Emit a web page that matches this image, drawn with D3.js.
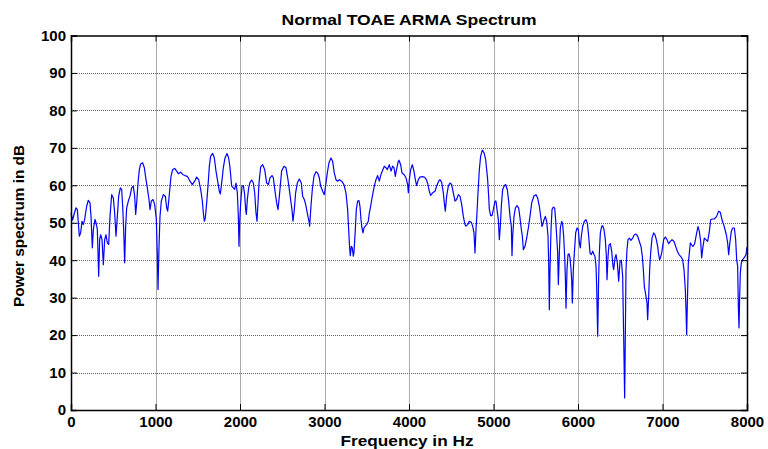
<!DOCTYPE html>
<html>
<head>
<meta charset="utf-8">
<script src="https://cdn.jsdelivr.net/npm/d3@7"></script>
<style>
  html, body { margin: 0; padding: 0; background: #fff; }
  svg { display: block; }
  text { font-family: "Liberation Sans", Arial, sans-serif; font-weight: bold; fill: #000; }
</style>
</head>
<body>
<svg id="chart" width="768" height="449"></svg>
<script>
// Spectrum estimate of a normal TOAE recording (ARMA model), Hz vs dB
const freqHz = [
  0, 19.7, 35.5, 59.2, 75.0, 86.8, 98.6, 114.4, 130.2, 146.0, 161.7, 185.4, 205.1, 224.9, 236.7, 252.5,
  264.3, 284.0, 295.9, 311.7, 327.4, 339.3, 351.1, 366.9, 382.7, 398.4, 414.2, 430.0, 445.8, 461.6, 481.3,
  501.0, 516.8, 532.6, 548.4, 564.1, 583.9, 599.6, 611.5, 623.3, 635.1, 647.0, 658.8, 678.5, 698.3, 718.0,
  737.7, 753.5, 765.3, 777.2, 793.0, 808.7, 824.5, 848.2, 867.9, 887.6, 903.4, 923.1, 935.0, 950.7, 970.5,
  990.2, 1009.9, 1021.8, 1029.6, 1041.5, 1053.3, 1069.1, 1092.8, 1116.4, 1132.2, 1144.1, 1159.8,
  1183.4, 1203.2, 1226.8, 1250.5, 1270.2, 1297.8, 1321.5, 1349.1, 1376.7, 1408.3, 1435.9, 1463.5, 1487.2,
  1510.9, 1534.5, 1554.3, 1566.1, 1578.0, 1589.8, 1605.6, 1621.3, 1637.1, 1652.9, 1676.6, 1696.3, 1716.0,
  1735.7, 1755.5, 1767.3, 1783.1, 1802.8, 1822.5, 1846.2, 1865.9, 1881.7, 1901.4, 1921.2, 1936.9, 1952.7,
  1968.5, 1980.4, 1988.2, 1996.1, 2008.0, 2023.7, 2039.5, 2055.3, 2067.1, 2075.0, 2086.9, 2102.6, 2118.4,
  2138.1, 2157.9, 2173.6, 2189.4, 2201.2, 2213.1, 2224.9, 2244.6, 2268.3, 2292.0, 2315.6, 2335.4, 2355.1,
  2378.8, 2394.6, 2414.3, 2434.0, 2449.8, 2465.6,
  2492.7, 2520.3, 2544.0, 2567.7, 2583.5, 2599.2, 2615.0, 2626.9, 2642.6, 2658.4, 2678.1, 2701.8, 2725.5,
  2741.3, 2761.0, 2776.8, 2796.5, 2816.2, 2824.1, 2839.9, 2855.7, 2875.4, 2899.1, 2918.8, 2938.5, 2954.3,
  2978.0, 2997.7, 3017.4, 3033.2, 3052.9, 3076.6, 3096.3, 3116.0, 3135.8, 3155.5, 3175.2, 3202.8, 3230.4,
  3254.1, 3273.8, 3285.7, 3297.5, 3305.4, 3317.2, 3329.1, 3340.9, 3348.8, 3364.6, 3376.4, 3392.2, 3408.0,
  3419.8, 3431.6, 3443.5, 3455.3, 3467.1, 3482.9, 3498.7, 3518.4, 3530.3, 3546.0, 3569.7, 3589.4, 3609.2,
  3628.9, 3648.6, 3668.3, 3688.1, 3707.8, 3727.5, 3743.3, 3767.0, 3786.7, 3806.4, 3822.2, 3838.0, 3853.8,
  3873.5,
  3881.5, 3901.2, 3917.0, 3940.7, 3964.4, 3984.1, 3992.0, 4003.8, 4019.6, 4039.3, 4059.0, 4074.8, 4090.6,
  4110.3, 4130.1, 4157.7, 4181.3, 4201.1, 4220.8, 4240.5, 4256.3, 4280.0, 4307.6, 4327.3, 4351.0, 4366.8,
  4386.5, 4406.2, 4418.0, 4429.9, 4445.7, 4465.4, 4485.1, 4504.8, 4524.6, 4544.3, 4564.0, 4583.7, 4603.5,
  4623.2, 4642.9, 4662.6, 4674.5, 4694.2, 4713.9, 4737.6, 4753.4, 4769.2, 4781.0, 4792.8, 4804.6, 4816.5,
  4832.3, 4848.0, 4867.7, 4887.5, 4907.2, 4919.1, 4930.9, 4942.7, 4950.6, 4966.4, 4982.2, 4998.0, 5017.7,
  5029.5, 5041.3, 5057.1, 5069.0, 5080.8, 5092.6, 5108.4, 5128.1,
  5144.1, 5163.8, 5179.6, 5195.4, 5211.1, 5219.0, 5226.9, 5242.7, 5258.5, 5278.2, 5297.9, 5313.7, 5329.5,
  5341.3, 5353.2, 5372.9, 5392.6, 5412.3, 5432.1, 5451.8, 5479.4, 5503.1, 5522.8, 5542.5, 5558.3, 5574.1,
  5582.0, 5597.7, 5613.5, 5629.3, 5645.1, 5653.0, 5660.9, 5668.8, 5680.6, 5692.4, 5708.2, 5724.0, 5735.8,
  5747.7, 5759.5, 5767.4, 5779.2, 5791.1, 5806.8, 5818.7, 5830.5, 5842.3, 5850.2, 5858.1, 5869.9, 5881.8,
  5893.6, 5905.5, 5917.3, 5925.2, 5933.1, 5944.9, 5956.7, 5972.5, 5988.3, 6004.1, 6015.9, 6027.7, 6039.6,
  6055.4, 6075.1, 6094.8, 6110.6, 6126.4, 6142.2, 6157.9, 6173.7, 6189.5, 6201.3, 6213.2, 6221.1, 6232.9,
  6244.7, 6252.6, 6264.5, 6280.2, 6292.1, 6307.8, 6323.6, 6335.5, 6343.3, 6355.2, 6367.0, 6382.8, 6398.6,
  6414.4, 6422.2, 6438.0, 6449.9, 6465.6, 6481.4,
  6497.0, 6512.8, 6528.6, 6540.4, 6552.2, 6560.1, 6568.0, 6579.8, 6591.7, 6607.5, 6627.2, 6646.9, 6666.6,
  6686.4, 6706.1, 6725.8, 6745.5, 6761.3, 6773.2, 6785.0, 6804.7, 6816.5, 6824.4, 6836.3, 6848.1, 6859.9,
  6875.7, 6895.4, 6911.2, 6927.0, 6942.8, 6954.6, 6966.5, 6978.3, 6990.1, 7002.0, 7013.8, 7033.5, 7053.2,
  7073.0, 7092.7, 7112.4, 7136.1, 7155.8, 7175.6, 7195.3, 7219.0, 7238.7, 7254.5, 7270.2, 7278.1, 7286.0,
  7293.9, 7305.7, 7317.6, 7329.4, 7345.2, 7361.0, 7380.7, 7400.4, 7420.1, 7435.9, 7451.7, 7463.5, 7479.3,
  7495.1, 7514.8, 7534.5, 7554.3, 7570.0, 7589.8, 7613.4, 7641.1, 7664.7, 7684.4, 7704.2, 7723.9, 7739.7,
  7755.5, 7771.2, 7783.1, 7798.9, 7814.6, 7830.4, 7850.1, 7865.9, 7877.7, 7889.6, 7897.5, 7905.4, 7913.2,
  7921.1, 7933.0, 7952.7, 7972.4, 7988.2, 8000.0
];

const powerDb = [
  52.6, 50.7, 52.2, 54.0, 53.5, 50.0, 46.4, 47.3, 50.4, 49.5, 50.9, 54.4, 56.0, 55.3, 51.7, 43.3,
  48.2, 50.9, 50.0, 48.2, 35.7, 45.5, 46.8, 45.5, 38.8, 45.5, 46.8, 44.6, 44.2, 51.7, 57.5,
  56.6, 52.6, 46.4, 51.7, 57.1, 59.3, 58.9, 54.4, 48.2, 39.3, 49.1, 54.0, 55.8, 57.1, 59.3,
  59.8, 57.1, 52.2, 55.3, 60.6, 64.2, 65.7, 66.0, 64.7, 61.5, 59.3, 56.2, 53.5, 55.8, 56.2,
  54.9, 50.9, 41.1, 32.2, 43.7, 51.7, 55.8, 57.5, 57.1, 54.0, 53.1, 56.6,
  62.4, 64.2, 64.5, 63.8, 63.1, 63.5, 62.9, 62.6, 62.4, 61.1, 60.2, 61.1, 62.2,
  61.5, 58.9, 55.8, 52.6, 50.4, 51.3, 55.3, 59.8, 65.1, 67.8, 68.5, 67.3, 63.8,
  61.1, 58.4, 57.7, 60.6, 64.7, 67.3, 68.5, 67.3, 64.7, 59.8, 59.3, 58.9, 60.6,
  58.0, 51.7, 43.7, 50.0, 55.3, 59.8, 59.9, 57.5, 53.5, 52.2, 56.2, 59.3, 60.8,
  61.4, 60.6, 58.0, 52.6, 50.4, 55.3, 60.6, 64.9, 65.5, 64.2, 60.6, 60.2, 62.0,
  62.6, 62.0, 58.4, 55.3, 53.5, 57.1,
  63.8, 65.1, 64.7, 61.5, 58.9, 56.2, 53.5, 50.4, 53.5, 58.0, 60.6, 61.7, 60.6,
  57.1, 56.2, 54.9, 52.6, 50.4, 49.1, 54.4, 58.9, 62.4, 63.6, 63.3, 62.0, 59.8,
  58.4, 57.5, 60.6, 63.3, 66.0, 67.3, 66.4, 63.3, 61.5, 61.1, 61.5, 61.1, 60.2,
  58.0, 53.5, 48.2, 43.3, 41.2, 43.7, 43.3, 41.1, 42.0, 48.2, 53.5, 55.8, 55.9,
  54.4, 50.9, 48.6, 47.3, 48.6, 49.1, 49.5, 50.4, 52.6, 54.4, 57.5, 59.8, 61.5,
  62.6, 61.1, 62.9, 64.0, 65.1, 64.7, 64.2, 65.5, 63.8, 65.1, 64.7, 62.4, 64.4,
  66.4,
  66.7, 65.5, 63.3, 62.9, 62.0, 60.2, 58.0, 61.5, 64.2, 65.5, 63.8, 61.5, 59.9,
  61.5, 62.2, 62.3, 62.2, 61.7, 60.6, 58.4, 57.3, 58.0, 58.4, 59.8, 61.1, 61.5,
  60.8, 58.0, 55.3, 53.1, 57.1, 59.8, 60.6, 60.2, 58.0, 55.8, 56.2, 57.5, 57.1,
  54.9, 51.7, 49.5, 49.1, 49.5, 50.4, 50.1, 49.1, 47.3, 41.9, 48.2, 52.6, 58.0,
  64.2, 67.8, 69.4, 68.7, 66.9, 64.2, 61.5, 57.1, 53.5, 51.9, 51.9, 53.5, 55.8,
  55.8, 53.5, 50.9, 45.5, 49.1, 54.4, 58.9, 59.9,
  60.2, 58.8, 55.7, 51.7, 49.0, 41.2, 46.4, 51.7, 53.9, 54.6, 53.9, 51.3, 48.2,
  46.4, 42.8, 43.7, 45.9, 48.6, 51.7, 55.3, 57.2, 57.5, 56.6, 54.4, 51.7, 49.0,
  49.5, 50.8, 51.7, 50.4, 46.4, 39.3, 26.8, 37.5, 48.2, 53.5, 54.2, 53.9, 50.8,
  46.4, 41.9, 33.5, 41.9, 48.6, 50.4, 49.5, 46.4, 41.0, 35.7, 27.2, 37.5, 41.5,
  41.7, 40.6, 37.5, 34.8, 28.6, 37.5, 41.9, 47.3, 48.6, 48.2, 44.6, 43.3, 46.4,
  49.0, 50.4, 50.8, 49.9, 46.4, 41.9, 41.5, 42.4, 41.5, 41.0, 38.4, 33.0, 19.7,
  35.7, 41.9, 47.3, 49.0, 49.2, 48.2, 45.5, 41.0, 34.8, 41.0, 44.1, 44.4, 42.4,
  38.4, 37.5, 40.6, 41.5, 39.3, 34.4,
  39.7, 40.0, 35.7, 19.7, 3.2, 19.7, 37.5, 42.8, 45.5, 45.9, 45.3, 45.9, 46.8,
  47.0, 46.4, 45.0, 43.7, 41.0, 37.5, 33.0, 30.3, 28.6, 24.1, 30.3, 37.5, 41.9,
  45.9, 47.3, 46.8, 45.5, 43.7, 41.5, 40.1, 40.9, 41.9, 43.7, 45.5, 46.2, 45.5,
  44.4, 45.0, 45.5, 45.0, 43.7, 42.4, 41.5, 40.9, 40.1, 37.5, 32.1, 26.8, 20.1,
  28.6, 39.3, 41.9, 44.6, 44.1, 43.7, 44.4, 46.8, 49.0, 47.7, 45.0, 40.6, 43.7,
  45.9, 45.5, 45.0, 47.7, 50.8, 51.0, 51.0, 51.7, 53.1, 52.8, 50.8, 49.5, 48.2,
  46.8, 44.6, 41.5, 45.0, 47.7, 48.6, 48.6, 45.5, 40.1, 38.4, 27.7, 21.9, 30.3,
  36.6, 39.3, 40.3, 40.8, 41.5, 43.5
];

const xTicks = [0, 1000, 2000, 3000, 4000, 5000, 6000, 7000, 8000];
const yTicks = [0, 10, 20, 30, 40, 50, 60, 70, 80, 90, 100];

const titleText = "Normal TOAE ARMA Spectrum";
const xLabelText = "Frequency in Hz";
const yLabelText = "Power spectrum  in dB";

const svg = d3.select("#chart");
const margin = { left: 71, right: 21, top: 35.5, bottom: 39 };
const W = 768, H = 449;
const x0 = margin.left, x1 = W - margin.right;
const y0 = H - margin.bottom, y1 = margin.top;

const x = d3.scaleLinear().domain([0, 8000]).range([x0, x1]);
const y = d3.scaleLinear().domain([0, 100]).range([y0, y1]);

// grid
const grid = svg.append("g");
grid.selectAll("line.gx").data(xTicks.slice(1, -1)).join("line")
  .attr("x1", d => Math.round(x(d)) + 0.5).attr("x2", d => Math.round(x(d)) + 0.5)
  .attr("y1", y1).attr("y2", y0)
  .attr("stroke", "#555").attr("stroke-width", 1).attr("stroke-dasharray", "1,1");
grid.selectAll("line.gy").data(yTicks.slice(1, -1)).join("line")
  .attr("y1", d => Math.round(y(d)) + 0.5).attr("y2", d => Math.round(y(d)) + 0.5)
  .attr("x1", x0).attr("x2", x1)
  .attr("stroke", "#666").attr("stroke-width", 1).attr("stroke-dasharray", "1,1");

// spectrum line
const pts = freqHz.map((f, i) => [f, powerDb[i]]);
svg.append("path")
  .datum(pts)
  .attr("fill", "none")
  .attr("stroke", "#0000ff")
  .attr("stroke-width", 1.2)
  .attr("stroke-linejoin", "round")
  .attr("d", d3.line().x(d => x(d[0])).y(d => y(d[1])));

// axes (ticks pointing inward, on all four sides)
const tickLen = 6;
const bottomAxis = d3.axisBottom(x).tickValues(xTicks).tickSize(-tickLen).tickPadding(6).tickFormat(d3.format("d"));
const topAxis = d3.axisTop(x).tickValues(xTicks).tickSize(-tickLen).tickFormat("");
const leftAxis = d3.axisLeft(y).tickValues(yTicks).tickSize(-tickLen).tickPadding(5).tickFormat(d3.format("d"));
const rightAxis = d3.axisRight(y).tickValues(yTicks).tickSize(-tickLen).tickFormat("");

function styleAxis(g) {
  g.select(".domain").attr("stroke", "#000").attr("stroke-width", 1.5);
  g.selectAll(".tick line").attr("stroke", "#000").attr("stroke-width", 1);
  g.selectAll(".tick text").style("font-size", "15px").style("font-weight", "bold")
    .style("font-family", "'Liberation Sans', Arial, sans-serif").attr("fill", "#000");
}

svg.append("g").attr("transform", `translate(0,${y0})`).call(bottomAxis).call(styleAxis);
svg.append("g").attr("transform", `translate(0,${y1})`).call(topAxis).call(styleAxis);
svg.append("g").attr("transform", `translate(${x0},0)`).call(leftAxis).call(styleAxis);
svg.append("g").attr("transform", `translate(${x1},0)`).call(rightAxis).call(styleAxis);

// title and axis labels
svg.append("text")
  .attr("x", (x0 + x1) / 2).attr("y", 25)
  .attr("text-anchor", "middle")
  .style("font-size", "14px")
  .attr("textLength", 255).attr("lengthAdjust", "spacingAndGlyphs")
  .text(titleText);

svg.append("text")
  .attr("x", 407).attr("y", 446)
  .attr("text-anchor", "middle")
  .style("font-size", "14px")
  .attr("textLength", 133).attr("lengthAdjust", "spacingAndGlyphs")
  .text(xLabelText);

svg.append("text")
  .attr("transform", `translate(24,226) rotate(-90)`)
  .attr("text-anchor", "middle")
  .style("font-size", "14px")
  .attr("textLength", 162).attr("lengthAdjust", "spacingAndGlyphs")
  .text(yLabelText);
</script>
</body>
</html>
